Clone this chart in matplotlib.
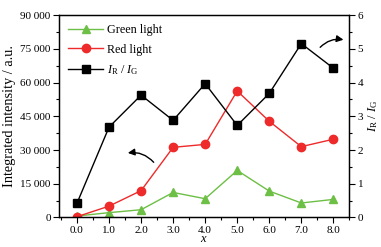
import matplotlib
matplotlib.use("Agg")
import matplotlib.pyplot as plt
from matplotlib.ticker import MultipleLocator, FuncFormatter

# data
x = [0.0, 1.0, 2.0, 3.0, 4.0, 5.0, 6.0, 7.0, 8.0]
green = [600, 2100, 3400, 11100, 8300, 20900, 11700, 6400, 8000]
red = [300, 5000, 11900, 31200, 32500, 56300, 42800, 31500, 34800]
ratio = [0.42, 2.68, 3.63, 2.88, 3.97, 2.73, 3.68, 5.16, 4.43]
x_ticks = [0.0, 1.0, 2.0, 3.0, 4.0, 5.0, 6.0, 7.0, 8.0]

plt.rcParams['font.family'] = ['Liberation Serif', 'DejaVu Serif']
plt.rcParams['mathtext.fontset'] = 'custom'
plt.rcParams['mathtext.rm'] = 'Liberation Serif'
plt.rcParams['mathtext.it'] = 'Liberation Serif:italic'
plt.rcParams['font.size'] = 8

fig = plt.figure(figsize=(3.81, 2.47), dpi=100)
ax = fig.add_axes([0.155, 0.12, 0.762, 0.818])
ax2 = ax.twinx()

l1, = ax.plot(x, green, '-^', color='#6dbf45', lw=1, ms=6, label='Green light')
l2, = ax.plot(x, red, '-o', color='#ee2a2a', lw=1, ms=6, label='Red light')
l3, = ax2.plot(x, ratio, '-s', color='black', lw=1, ms=5.5,
               label=r'$I_{\mathrm{R}}$ / $I_{\mathrm{G}}$')

ax.set_xlim(-0.56, 8.5)
ax.set_ylim(0, 90000)
ax2.set_ylim(0, 6)
ax.set_xticks(x_ticks)
ax.set_xticklabels(['%.1f' % v for v in x_ticks])
ax.xaxis.set_minor_locator(MultipleLocator(0.5))
ax.yaxis.set_major_locator(MultipleLocator(15000))
ax.yaxis.set_minor_locator(MultipleLocator(7500))
ax.yaxis.set_major_formatter(FuncFormatter(lambda v, p: '{:,}'.format(int(v)).replace(',', ' ')))
ax2.yaxis.set_major_locator(MultipleLocator(1))
ax2.yaxis.set_minor_locator(MultipleLocator(0.5))

for a in (ax, ax2):
    a.tick_params(which='major', direction='out', length=4, width=0.8, pad=2)
    a.tick_params(which='minor', direction='out', length=2.5, width=0.8)
    for s in a.spines.values():
        s.set_linewidth(0.9)

ax.set_xlabel('$x$', labelpad=-1, fontsize=9)
ax.set_ylabel('Integrated intensity / a.u.', labelpad=3, fontsize=10.3)
ax2.set_ylabel(r'$I_{\mathrm{R}}$ / $I_{\mathrm{G}}$', labelpad=2, fontsize=9)

ax.legend(handles=[l1, l2, l3], loc='upper left', frameon=False, fontsize=8.7,
          handlelength=2.9, borderaxespad=0.35, labelspacing=0.6, handletextpad=0.35)

# curved arrows pointing to the axes
ax.annotate('', xy=(1.5, 28500), xytext=(2.45, 23600),
            arrowprops=dict(arrowstyle='-|>', color='black', lw=1,
                            connectionstyle='arc3,rad=0.3', mutation_scale=10))
ax2.annotate('', xy=(8.4, 5.26), xytext=(7.53, 4.99),
             arrowprops=dict(arrowstyle='-|>', color='black', lw=1,
                             connectionstyle='arc3,rad=-0.3', mutation_scale=10))

fig.savefig('out.png', dpi=100)
